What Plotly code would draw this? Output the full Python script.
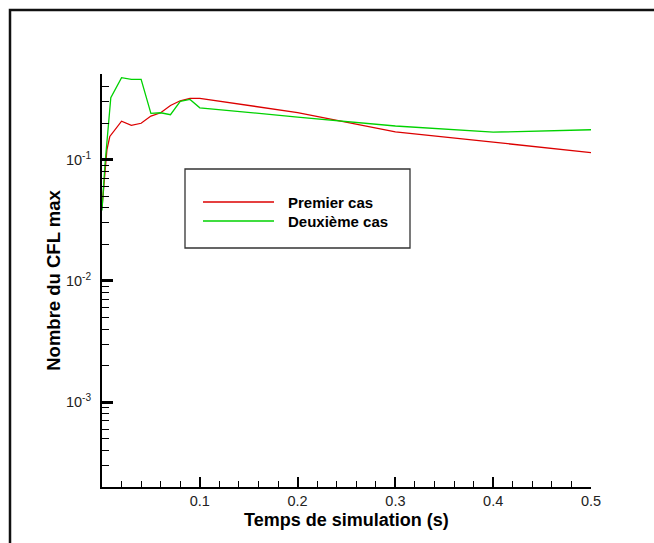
import plotly.graph_objects as go

# ---- data ----
series_names = ["Premier cas", "Deuxième cas"]
t_premier = [0, 0.003, 0.005, 0.008, 0.01, 0.02, 0.03, 0.04, 0.05, 0.06, 0.07, 0.08, 0.09, 0.1, 0.2, 0.3, 0.4, 0.5]
cfl_premier = [0.04, 0.083, 0.12, 0.155, 0.163, 0.207, 0.191, 0.199, 0.228, 0.243, 0.279, 0.305, 0.319, 0.319, 0.244, 0.169, 0.139, 0.114]
t_deuxieme = [0, 0.003, 0.009, 0.02, 0.03, 0.04, 0.05, 0.06, 0.07, 0.08, 0.09, 0.1, 0.2, 0.3, 0.4, 0.5]
cfl_deuxieme = [0.038, 0.09, 0.324, 0.473, 0.458, 0.458, 0.240, 0.243, 0.234, 0.301, 0.313, 0.267, 0.224, 0.189, 0.168, 0.176]
x_tickvals = [0.1, 0.2, 0.3, 0.4, 0.5]
x_ticktext = ["0.1", "0.2", "0.3", "0.4", "0.5"]
y_tickvals = [1e-3, 1e-2, 1e-1]
y_ticktext = ["10<sup>-3</sup>", "10<sup>-2</sup>", "10<sup>-1</sup>"]
y_minor_tickvals = [2e-4, 3e-4, 4e-4, 5e-4, 6e-4, 7e-4, 8e-4, 9e-4,
                    2e-3, 3e-3, 4e-3, 5e-3, 6e-3, 7e-3, 8e-3, 9e-3,
                    2e-2, 3e-2, 4e-2, 5e-2, 6e-2, 7e-2, 8e-2, 9e-2,
                    2e-1, 3e-1, 4e-1, 5e-1]
x_title = "Temps de simulation (s)"
y_title = "Nombre du CFL max"

colors = ["#dc0000", "#00d200"]
FONT = "Liberation Sans, Arial, sans-serif"

fig = go.Figure()
fig.add_trace(go.Scatter(x=t_premier, y=cfl_premier, mode="lines", name=series_names[0],
                         line=dict(color=colors[0], width=1.3), showlegend=False))
fig.add_trace(go.Scatter(x=t_deuxieme, y=cfl_deuxieme, mode="lines", name=series_names[1],
                         line=dict(color=colors[1], width=1.3), showlegend=False))

W, H = 654, 543
L, R, T, B = 102, 63, 74, 56
pw, ph = W - L - R, H - T - B

def px(x):
    return (x - L) / pw

def py(y):
    return (H - B - y) / ph

fig.update_layout(
    width=W, height=H,
    margin=dict(l=L, r=R, t=T, b=B),
    paper_bgcolor="white", plot_bgcolor="white",
    font=dict(family=FONT, color="black", size=14.5),
    xaxis=dict(
        range=[0, 0.5], tickmode="array", tickvals=x_tickvals, ticktext=x_ticktext,
        ticks="inside", ticklen=10, tickwidth=2, tickcolor="black",
        showline=True, linecolor="black", linewidth=2, showgrid=False, zeroline=False,
        minor=dict(ticks="inside", ticklen=6, tickwidth=1, tickcolor="black", dtick=0.02, showgrid=False),
        tickfont=dict(size=14.5, family=FONT, color="#222222"),
    ),
    yaxis=dict(
        type="log", range=[-3.70, -0.295], tickmode="array", tickvals=y_tickvals, ticktext=y_ticktext,
        ticks="inside", ticklen=11, tickwidth=2.5, tickcolor="black",
        showline=True, linecolor="black", linewidth=2, showgrid=False, zeroline=False,
        minor=dict(ticks="inside", ticklen=7, tickwidth=1, tickcolor="black",
                   tickmode="array", tickvals=y_minor_tickvals, showgrid=False),
        tickfont=dict(size=14.5, family=FONT, color="#222222"),
        ticklabelstandoff=6,
        title=dict(text=y_title, font=dict(size=18.5, family=FONT, weight="bold"), standoff=0),
    ),
    shapes=[
        # outer frame
        dict(type="rect", xref="paper", yref="paper", x0=px(10), x1=px(700), y0=py(600), y1=py(10),
             line=dict(color="#111111", width=2.5), fillcolor="rgba(0,0,0,0)", layer="above"),
        # legend box
        dict(type="rect", xref="paper", yref="paper", x0=px(185), x1=px(410), y0=py(248), y1=py(169),
             line=dict(color="#333333", width=1.3), fillcolor="white", layer="above"),
        dict(type="line", xref="paper", yref="paper", x0=px(203), x1=px(274), y0=py(202), y1=py(202),
             line=dict(color=colors[0], width=1.3), layer="above"),
        dict(type="line", xref="paper", yref="paper", x0=px(203), x1=px(274), y0=py(221), y1=py(221),
             line=dict(color=colors[1], width=1.3), layer="above"),
    ],
    annotations=[
        dict(xref="paper", yref="paper", x=px(286), y=py(202), text=series_names[0], showarrow=False,
             xanchor="left", yanchor="middle", font=dict(size=15, family=FONT, weight="bold", color="black")),
        dict(xref="paper", yref="paper", x=px(286), y=py(221), text=series_names[1], showarrow=False,
             xanchor="left", yanchor="middle", font=dict(size=15, family=FONT, weight="bold", color="black")),
        dict(xref="paper", yref="paper", x=0.5, y=py(520), text=x_title, showarrow=False,
             xanchor="center", yanchor="middle", font=dict(size=18, family=FONT, weight="bold", color="black")),
    ],
)

fig.write_html("out.html")
